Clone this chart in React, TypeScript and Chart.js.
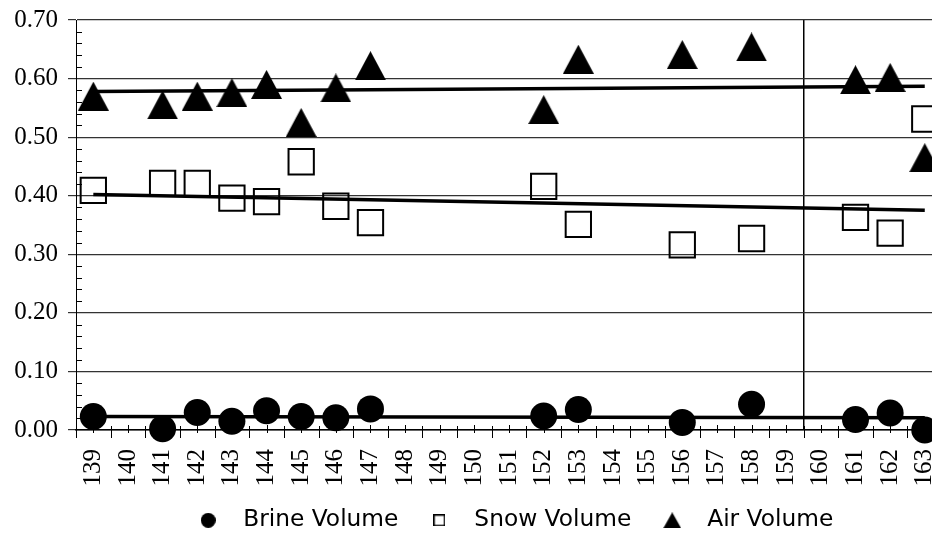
import React, { useEffect, useRef } from 'react';
import { Chart, registerables } from 'chart.js';

Chart.register(...registerables);

// Day numbers along the horizontal axis
const days = [
  '139', '140', '141', '142', '143', '144', '145', '146', '147', '148', '149', '150', '151',
  '152', '153', '154', '155', '156', '157', '158', '159', '160', '161', '162', '163',
];

// Volume fractions per day (null = no sample that day)
const brineVolume = [
  0.023, null, 0.002, 0.030, 0.015, 0.033, 0.023, 0.021, 0.036, null, null, null, null,
  0.024, 0.035, null, null, 0.013, null, 0.044, null, null, 0.018, 0.029, 0.0,
];
const snowVolume = [
  0.409, null, 0.421, 0.421, 0.396, 0.390, 0.458, 0.382, 0.354, null, null, null, null,
  0.416, 0.351, null, null, 0.316, null, 0.327, null, null, 0.363, 0.336, 0.531,
];
const airVolume = [
  0.570, null, 0.555, 0.570, 0.576, 0.590, 0.525, 0.584, 0.622, null, null, null, null,
  0.547, 0.633, null, null, 0.641, null, 0.654, null, null, 0.598, 0.602, 0.465,
];

// Linear trend lines, given by their two end points
const trendEnds = ['139', '163'];
const brineTrend = [0.023, 0.021];
const snowTrend = [0.402, 0.375];
const airTrend = [0.578, 0.587];

const seriesNames = ['Brine Volume', 'Snow Volume', 'Air Volume'];

// Day after which the vertical divider is drawn
const dividerAfter = '159';

const SERIF = "'Liberation Serif', 'Times New Roman', serif";
const SANS = "'DejaVu Sans', sans-serif";

const LEGEND_FONT = 23.3;
const LEGEND_PAD = 17.6;
const CANVAS_W = 962;
const CANVAS_H = 542;

function makeCanvas(w: number, h: number) {
  const c = document.createElement('canvas');
  c.width = w;
  c.height = h;
  return c;
}

function triangleIcon(w: number, h: number) {
  const c = makeCanvas(w, h);
  const g = c.getContext('2d')!;
  g.fillStyle = '#000';
  g.beginPath();
  g.moveTo(w / 2, 0);
  g.lineTo(w, h);
  g.lineTo(0, h);
  g.closePath();
  g.fill();
  return c;
}

function circleIcon(d: number) {
  const c = makeCanvas(d, d);
  const g = c.getContext('2d')!;
  g.fillStyle = '#000';
  g.beginPath();
  g.arc(d / 2, d / 2, d / 2, 0, Math.PI * 2);
  g.fill();
  return c;
}

function squareIcon(s: number, lw: number) {
  const c = makeCanvas(s, s);
  const g = c.getContext('2d')!;
  g.strokeStyle = '#000';
  g.lineWidth = lw;
  g.strokeRect(lw / 2, lw / 2, s - lw, s - lw);
  return c;
}

// Small tick marks on both axes
const axisMarks = {
  id: 'axisMarks',
  beforeDatasetsDraw(chart: any) {
    const { ctx, scales } = chart;
    const x = scales.x;
    const y = scales.y;
    const base = Math.round(y.getPixelForValue(0));
    const first = x.getPixelForValue(0);
    const step = x.getPixelForValue(1) - first;
    const line = (x1: number, y1: number, x2: number, y2: number) => {
      ctx.beginPath();
      ctx.moveTo(x1, y1);
      ctx.lineTo(x2, y2);
      ctx.stroke();
    };
    ctx.save();
    ctx.strokeStyle = '#000';
    ctx.lineWidth = 1;
    for (let i = 0; i <= days.length; i++) {
      const px = Math.round(first + (i - 0.5) * step) + 0.5;
      line(px, base - 4, px, base + 8);
    }
    for (let i = 0; i < days.length; i++) {
      const px = Math.round(first + i * step) + 0.5;
      line(px, base - 5, px, base + 3);
    }
    const minorStep = 0.02;
    const count = Math.round((y.max - y.min) / minorStep);
    for (let k = 1; k < count; k++) {
      if (k % 5 === 0) continue;
      const py = Math.round(y.getPixelForValue(y.min + k * minorStep)) + 0.5;
      line(y.right, py, y.right + 6, py);
    }
    ctx.restore();
  },
};

export default function App() {
  const ref = useRef<HTMLCanvasElement>(null);

  useEffect(() => {
    const canvas = ref.current;
    if (!canvas) return;

    const airMarker = triangleIcon(31, 29);
    const legendIcons = [circleIcon(15), squareIcon(12, 1.5), triangleIcon(18, 16)];
    const dividerIndex = days.indexOf(dividerAfter) + 1;
    const legendHeight = LEGEND_FONT + LEGEND_PAD + 10;

    const trend = (ends: number[]) => trendEnds.map((d, i) => ({ x: d, y: ends[i] }));
    const trendStyle = {
      borderColor: '#000',
      borderWidth: 3.5,
      pointRadius: 0,
      pointHoverRadius: 0,
      fill: false,
      clip: false as any,
    };

    const chart = new Chart(canvas, {
      type: 'line',
      data: {
        labels: days,
        datasets: [
          {
            label: seriesNames[0],
            data: brineVolume,
            showLine: false,
            pointStyle: 'circle',
            pointRadius: 13.5,
            pointHoverRadius: 13.5,
            pointBackgroundColor: '#000',
            pointBorderColor: '#000',
            pointBorderWidth: 0,
            clip: false as any,
          },
          {
            label: seriesNames[1],
            data: snowVolume,
            showLine: false,
            pointStyle: 'rect',
            pointRadius: 17.9,
            pointHoverRadius: 17.9,
            pointBackgroundColor: 'rgba(0,0,0,0)',
            pointBorderColor: '#000',
            pointBorderWidth: 2,
            clip: false as any,
          },
          {
            label: seriesNames[2],
            data: airVolume,
            showLine: false,
            pointStyle: airMarker as any,
            pointRadius: 15,
            pointHoverRadius: 15,
            clip: false as any,
          },
          { label: 'brine trend', data: trend(brineTrend) as any, ...trendStyle },
          { label: 'snow trend', data: trend(snowTrend) as any, ...trendStyle },
          { label: 'air trend', data: trend(airTrend) as any, ...trendStyle },
        ],
      },
      options: {
        responsive: false,
        animation: false,
        devicePixelRatio: 1,
        events: [],
        layout: { padding: { top: 20, left: 0, right: 0, bottom: 0 } },
        scales: {
          x: {
            type: 'category',
            offset: true,
            grid: {
              offset: true,
              drawTicks: false,
              lineWidth: 1.5,
              color: (c: any) => (c.index === dividerIndex ? '#000' : 'rgba(0,0,0,0)'),
            },
            border: { display: true, color: '#000', width: 1.5 },
            ticks: {
              autoSkip: false,
              maxRotation: 90,
              minRotation: 90,
              padding: 19,
              color: '#000',
              font: { family: SERIF, size: 25 },
            },
            afterFit: (s: any) => {
              s.height = CANVAS_H - legendHeight - 430;
              s.paddingLeft = 0;
              s.paddingRight = 0;
            },
          },
          y: {
            min: 0,
            max: 0.7,
            ticks: {
              stepSize: 0.1,
              padding: 10,
              color: '#000',
              font: { family: SERIF, size: 25 },
              callback: (v: any) => Number(v).toFixed(2),
            },
            grid: { color: '#333', lineWidth: 1.2, tickLength: 8, drawTicks: true, tickColor: '#333' },
            border: { display: true, color: '#000', width: 1 },
            afterFit: (s: any) => {
              s.width = 76;
              s.paddingTop = 0;
              s.paddingBottom = 0;
            },
          },
        },
        plugins: {
          tooltip: { enabled: false },
          legend: {
            display: true,
            position: 'bottom',
            fullSize: false,
            align: 'center',
            labels: {
              usePointStyle: true,
              pointStyleWidth: 46.7,
              padding: LEGEND_PAD,
              color: '#000',
              font: { family: SANS, size: LEGEND_FONT },
              generateLabels: (ch: any) => {
                const items = Chart.defaults.plugins.legend.labels.generateLabels(ch);
                return items
                  .filter((it: any) => it.datasetIndex < 3)
                  .map((it: any) => ({ ...it, pointStyle: legendIcons[it.datasetIndex], lineWidth: 0 }));
              },
            },
          },
        },
      },
      plugins: [axisMarks],
    });

    return () => chart.destroy();
  }, []);

  return (
    <div
      style={{
        position: 'absolute',
        left: 0,
        top: 0,
        width: 932,
        height: 533,
        overflow: 'hidden',
        background: '#fff',
      }}
    >
      <canvas
        ref={ref}
        width={CANVAS_W}
        height={CANVAS_H}
        style={{ display: 'block', width: CANVAS_W, height: CANVAS_H }}
      />
    </div>
  );
}
